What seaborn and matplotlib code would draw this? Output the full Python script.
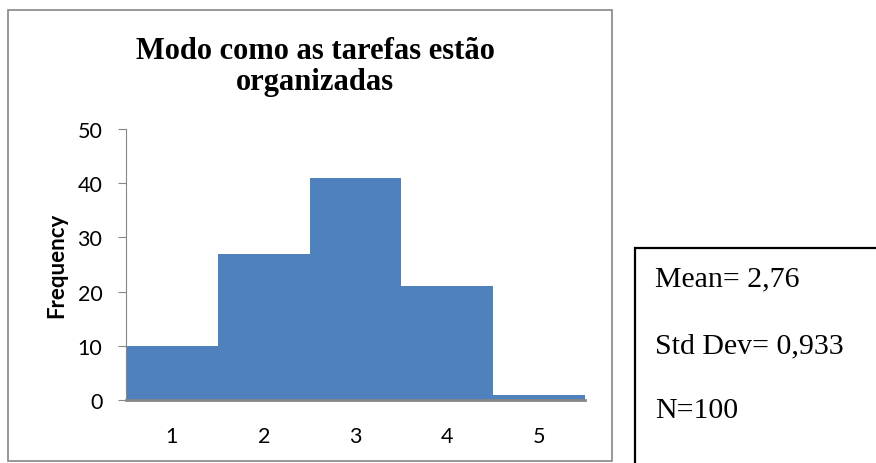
import matplotlib
matplotlib.use("Agg")
import matplotlib.pyplot as plt
from matplotlib.patches import Rectangle
import pandas as pd
import seaborn as sns

# dados do histograma
categorias = ["1", "2", "3", "4", "5"]
frequencias = [10, 27, 41, 21, 1]
titulo = "Modo como as tarefas estão\norganizadas"
estatisticas = ["Mean= 2,76", "Std Dev= 0,933", "N=100"]

df = pd.DataFrame({"valor": categorias, "freq": frequencias})

sns.set_style("white")
plt.rcParams["font.family"] = ["Lato", "DejaVu Sans"]
plt.rcParams["text.color"] = "black"
plt.rcParams["axes.labelcolor"] = "black"
plt.rcParams["xtick.color"] = "black"
plt.rcParams["ytick.color"] = "black"

W, H = 876, 464
fig = plt.figure(figsize=(W / 100, H / 100), dpi=100)

def fx(px):
    return px / W

def fy(py):
    return 1 - py / H

# moldura do gráfico
fig.patches.append(Rectangle((fx(8), fy(462)), fx(612) - fx(8), fy(11) - fy(462),
                             transform=fig.transFigure, fill=False,
                             edgecolor="#868686", linewidth=1.2))

ax = fig.add_axes([fx(126), fy(401), fx(585) - fx(126), fy(130) - fy(401)])
sns.barplot(data=df, x="valor", y="freq", color="#4F81BD", width=1.0,
            saturation=1, ax=ax, linewidth=0)
ax.set_xlim(-0.5, 4.5)
ax.set_ylim(0, 50)
ax.set_yticks([0, 10, 20, 30, 40, 50])
ax.set_xlabel("")
ax.set_ylabel("")
fig.text(fx(57), fy(265), "Frequency", rotation=90, ha="center", va="center",
         fontsize=16, fontweight="bold")
for s in ["top", "right"]:
    ax.spines[s].set_visible(False)
ax.spines["left"].set_color("#868686")
ax.spines["bottom"].set_color("#868686")
ax.spines["bottom"].set_linewidth(2)
ax.tick_params(axis="y", length=6, color="#868686", labelsize=15.5, pad=11, left=True)
ax.tick_params(axis="x", length=0, labelsize=15.5, pad=19)

fig.text(fx(315), fy(67), titulo, ha="center", va="center", fontsize=22,
         fontweight="bold", family="Liberation Serif", linespacing=1.1)

# caixa de estatísticas
fig.patches.append(Rectangle((fx(635), fy(470)), fx(880) - fx(635), fy(249) - fy(470),
                             transform=fig.transFigure, fill=False,
                             edgecolor="black", linewidth=1.6, clip_on=False))
for txt, y in zip(estatisticas, [286, 353, 418]):
    fig.text(fx(655), fy(y), txt, ha="left", va="baseline", fontsize=21.5,
             family="Liberation Serif")

fig.savefig("out.png", dpi=100)
